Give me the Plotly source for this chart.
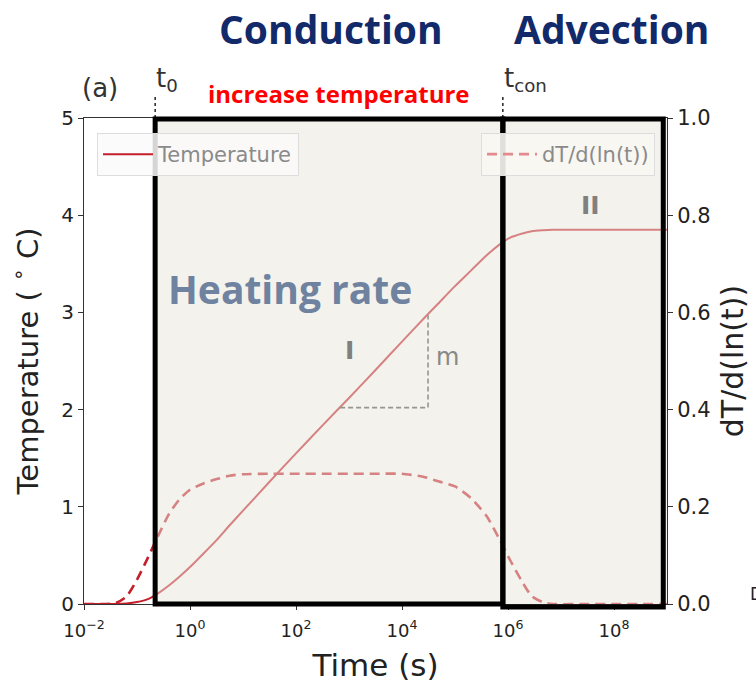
import plotly.graph_objects as go

# ---------------- data ----------------
time_s = [1e-2, 2.5e-2, 4e-2, 6.3e-2, 1e-1, 1.6e-1, 2.5e-1, 4e-1, 6.3e-1, 1.0,
          1.8, 3.2, 5.6, 10, 32, 100, 320, 1e3, 3.2e3, 1e4,
          2.5e4, 5e4, 1e5, 2e5, 4e5, 7e5, 1.1e6, 1.8e6, 2.8e6, 4.5e6,
          7e6, 3.2e7, 1e8, 3.2e8, 1e9]
temperature = [0.0, 0.0, 0.0, 0.005, 0.02, 0.05, 0.11, 0.19, 0.28, 0.38,
               0.52, 0.66, 0.81, 0.96, 1.26, 1.55, 1.84, 2.12, 2.41, 2.70,
               2.93, 3.10, 3.27, 3.43, 3.59, 3.70, 3.77, 3.81, 3.835, 3.845,
               3.85, 3.85, 3.85, 3.85, 3.85]
dT_dlnt = [0.0, 0.0, 0.002, 0.015, 0.05, 0.095, 0.14, 0.185, 0.215, 0.235,
           0.248, 0.257, 0.264, 0.267, 0.268, 0.268, 0.268, 0.268, 0.268, 0.268,
           0.262, 0.252, 0.242, 0.218, 0.18, 0.132, 0.09, 0.048, 0.016, 0.004,
           0.0, 0.0, 0.0, 0.0, 0.0]

t0 = 0.22          # start of conduction box
t_con = 8.0e5      # end of conduction / start of advection
t_end = 8.5e8      # right edge of advection box

slope_x = [680, 3.1e4, 3.1e4]   # slope triangle (Time)
slope_y = [2.02, 2.02, 2.97]    # slope triangle (Temperature)

x_tickvals = [1e-2, 1e0, 1e2, 1e4, 1e6, 1e8]
x_ticktext = ["10<sup>\u22122</sup>", "10<sup>0</sup>", "10<sup>2</sup>",
              "10<sup>4</sup>", "10<sup>6</sup>", "10<sup>8</sup>"]

# ---------------- layout helpers ----------------
L, R, T, B = 84, 89, 118, 82
W, H = 756, 686
PW, PH = W - L - R, H - T - B


def px(x):
    return (x - L) / PW


def py(y):
    return (H - B - y) / PH


DARK_RED = "#c41f2b"
FONT = "DejaVu Sans"

fig = go.Figure()

fig.add_trace(go.Scatter(
    x=time_s, y=temperature, mode="lines", name="Temperature",
    line=dict(color=DARK_RED, width=2, shape="spline", smoothing=0.6),
    legend="legend"))

fig.add_trace(go.Scatter(
    x=time_s, y=dT_dlnt, mode="lines", name="dT/d(ln(t))", yaxis="y2",
    line=dict(color=DARK_RED, width=2.6, dash="10px,6px", shape="spline", smoothing=0.6),
    showlegend=False))

# legend entry for the dashed curve as it appears inside the shaded box
fig.add_trace(go.Scatter(
    x=[None], y=[None], mode="lines", name="dT/d(ln(t))", yaxis="y2",
    line=dict(color="#e48a8f", width=2.6, dash="10px,6px"),
    legend="legend2"))

# slope triangle
fig.add_trace(go.Scatter(
    x=slope_x, y=slope_y, mode="lines", showlegend=False,
    line=dict(color="#444444", width=1.6, dash="5px,3px")))

shapes = [
    dict(type="rect", xref="x", yref="paper", x0=t0, x1=1e9, y0=0, y1=1,
         fillcolor="rgba(232,229,218,0.5)", line=dict(width=0), layer="above"),
    dict(type="rect", xref="x", yref="paper", x0=t0, x1=t_con, y0=0.0, y1=0.998,
         line=dict(color="black", width=5), layer="above"),
    dict(type="rect", xref="x", yref="paper", x0=t_con, x1=t_end, y0=-0.006, y1=0.998,
         line=dict(color="black", width=5), layer="above"),
    dict(type="line", xref="x", yref="paper", x0=t0, x1=t0, y0=1.0, y1=py(95),
         line=dict(color="black", width=1.3, dash="dot"), layer="above"),
    dict(type="line", xref="x", yref="paper", x0=t_con, x1=t_con, y0=1.0, y1=py(95),
         line=dict(color="black", width=1.3, dash="dot"), layer="above"),
]

annotations = []


def ann(text, x, y, size, color, family=FONT, xanchor="center", yanchor="middle"):
    annotations.append(dict(text=text, x=px(x), y=py(y), xref="paper", yref="paper",
                            showarrow=False, font=dict(size=size, color=color, family=family),
                            xanchor=xanchor, yanchor=yanchor))


ann("<b>Conduction</b>", 331, 28, 39, "#12296a", family="Open Sans")
ann("<b>Advection</b>", 611, 28, 39, "#12296a", family="Open Sans")
ann("<b>increase temperature</b>", 339, 93, 24, "#ff0000", family="Open Sans")
ann("(a)", 100, 88, 26, "#333333")
ann("t<sub>0</sub>", 154, 79, 26, "#333333", xanchor="left")
ann("t<sub>con</sub>", 502, 79, 26, "#333333", xanchor="left")
ann("<b>Heating rate</b>", 290, 288, 39, "#6f829f", family="Open Sans")
ann("<b>I</b>", 349, 350, 25, "#808080")
ann("m", 447, 357, 24, "#888888")
ann("<b>II</b>", 590, 206, 25, "#808080")
ann("D", 748, 594, 17, "#222222", xanchor="left")

fig.update_layout(
    width=W, height=H,
    margin=dict(l=L, r=R, t=T, b=B),
    paper_bgcolor="white", plot_bgcolor="white",
    font=dict(family=FONT, color="#222222", size=16),
    shapes=shapes, annotations=annotations,
    xaxis=dict(type="log", range=[-2, 9], tickvals=x_tickvals, ticktext=x_ticktext,
               automargin=False,
               showgrid=False, zeroline=False, showline=True, linecolor="#333333",
               mirror=True, ticks="outside", ticklen=5, tickcolor="#333333",
               ticklabelstandoff=5,
               tickfont=dict(size=18, color="#222222"),
               title=dict(text="Time (s)", font=dict(size=31, color="#222222"), standoff=14)),
    yaxis=dict(range=[0, 5], tickvals=[0, 1, 2, 3, 4, 5], showgrid=False, zeroline=False,
               automargin=False,
               showline=True, linecolor="#333333", mirror=True, ticks="outside",
               ticklen=5, tickcolor="#333333", tickfont=dict(size=20, color="#222222"),
               title=dict(text="Temperature (&nbsp;<sup>\u2218</sup>&nbsp;C)",
                          font=dict(size=29, color="#222222"), standoff=14)),
    yaxis2=dict(range=[0, 1], overlaying="y", side="right", tickvals=[0, 0.2, 0.4, 0.6, 0.8, 1.0],
                automargin=False,
                tickformat=".1f", showgrid=False, zeroline=False, showline=False,
                ticks="outside", ticklen=5, tickcolor="#333333",
                tickfont=dict(size=21, color="#222222"),
                title=dict(text="dT/d(ln(t))", font=dict(size=30, color="#222222"), standoff=12)),
    legend=dict(x=px(97), y=py(133), xanchor="left", yanchor="top", itemwidth=50,
                bgcolor="rgba(250,250,250,0.85)", bordercolor="#dddddd", borderwidth=1,
                font=dict(size=21, color="#8a8a8a")),
    legend2=dict(x=px(655), y=py(133), xanchor="right", yanchor="top", itemwidth=50,
                 bgcolor="rgba(248,247,243,0.9)", bordercolor="#dddddd", borderwidth=1,
                 font=dict(size=21, color="#8a8a8a")),
)

fig.write_html("out.html", config={"displayModeBar": False},
               post_script="document.body.style.margin='0';")
